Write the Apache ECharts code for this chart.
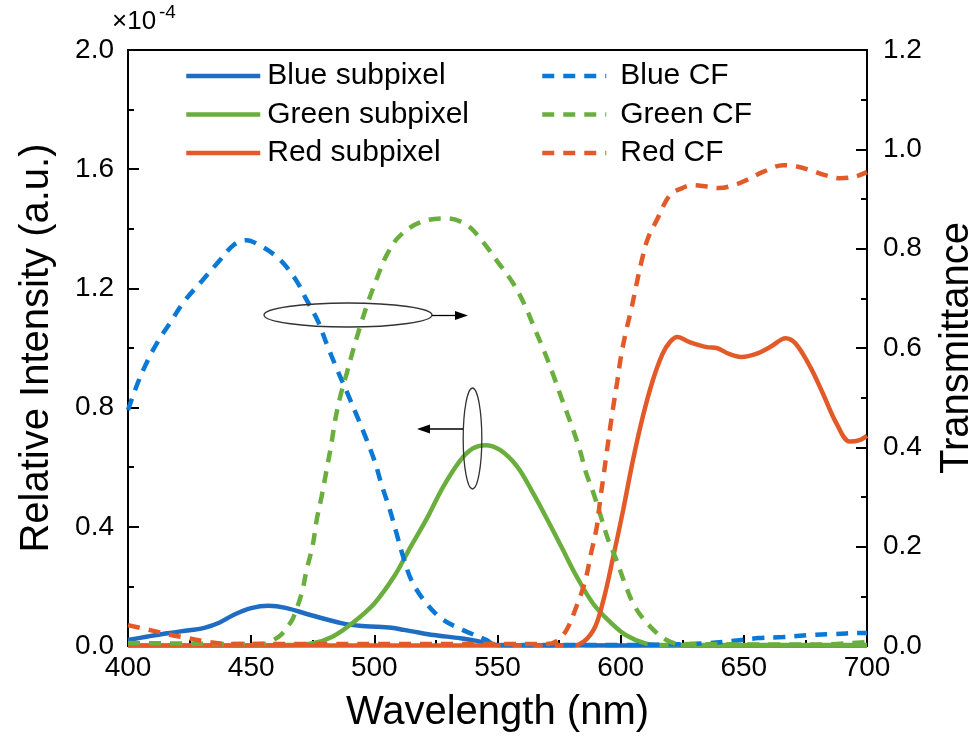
<!DOCTYPE html>
<html>
<head>
<meta charset="utf-8">
<title>Subpixel spectra and color filter transmittance</title>
<script src="https://cdn.jsdelivr.net/npm/echarts@6/dist/echarts.min.js"></script>
<style>
  html, body { margin: 0; padding: 0; background: #fff; }
  #chart { width: 979px; height: 738px; }
</style>
</head>
<body>
<div id="chart"></div>
<script>
// Emission spectra of the subpixels, [wavelength nm, intensity ×1e-4 a.u.]
const blueSubpixel = [
  [400,0.020],[408,0.032],[416,0.043],[425,0.053],[431,0.061],[437,0.078],[443,0.105],
  [450,0.127],[457,0.135],[464,0.128],[474,0.104],[487,0.076],[495,0.067],[501,0.065],
  [507,0.061],[512,0.054],[518,0.045],[524,0.037],[535,0.026],[541,0.018],[546,0.008],
  [551,0.003],[600,0.002],[700,0.002]
];
const greenSubpixel = [
  [400,0.002],[450,0.002],[465,0.003],[475,0.009],[483,0.031],[491,0.076],[500,0.143],
  [508,0.233],[514,0.322],[521,0.423],[528,0.535],[535,0.624],[540,0.663],[545,0.674],
  [551,0.658],[558,0.602],[564.5,0.512],[571,0.412],[576,0.332],[582,0.235],[589,0.140],
  [596,0.078],[602,0.037],[610,0.009],[617,0.003],[700,0.003]
];
const redSubpixel = [
  [400,0.002],[580,0.002],[583,0.005],[589,0.054],[593,0.154],[597,0.300],[601,0.456],
  [605,0.624],[609,0.770],[613,0.890],[617,0.980],[620,1.020],[623,1.037],[628,1.020],
  [635,1.003],[639,1.000],[644,0.980],[649,0.970],[655,0.980],[661,1.005],[667,1.033],
  [671,1.015],[677,0.936],[682,0.849],[687.6,0.747],[693,0.686],[697,0.691],[700,0.705]
];

// Color filter transmittance, [wavelength nm, transmittance]
const blueCF = [
  [400,0.475],[404,0.530],[408,0.575],[412,0.612],[417,0.650],[423,0.695],[430,0.735],
  [437,0.775],[443,0.808],[448,0.817],[453,0.808],[461,0.781],[467.8,0.740],[472.5,0.697],
  [477.2,0.653],[480.6,0.609],[484.7,0.559],[488.8,0.512],[492.8,0.465],[496.5,0.420],
  [500.2,0.371],[503,0.324],[506.3,0.274],[509,0.227],[511.7,0.180],[515,0.133],[520,0.093],
  [527,0.056],[536,0.032],[545.6,0.012],[549,0.002],[600,0.002],[620,0.003],[633,0.005],
  [645,0.010],[656,0.016],[666,0.018],[677,0.022],[686,0.024],[697,0.026],[700,0.026]
];
const greenCF = [
  [400,0.006],[420,0.005],[440,0.004],[452,0.004],[456,0.005],[459,0.012],[462,0.022],
  [465,0.040],[467,0.056],[470.5,0.106],[472.5,0.153],[475,0.203],[476.6,0.254],
  [478.6,0.301],[480.6,0.354],[482.5,0.405],[484,0.452],[486,0.499],[488.8,0.549],
  [491.4,0.596],[494.2,0.643],[497.5,0.693],[501,0.740],[505,0.787],[510,0.824],
  [518.5,0.853],[529,0.861],[537.5,0.848],[544,0.814],[550,0.774],[556.4,0.730],
  [561,0.687],[565,0.640],[569,0.593],[572.6,0.546],[576,0.499],[579.5,0.452],
  [583.4,0.395],[586,0.348],[589,0.307],[592,0.260],[595,0.213],[598.3,0.173],
  [601.7,0.126],[605.8,0.079],[612,0.039],[618.6,0.012],[624,0.004],[680,0.003],[700,0.008]
];
const redCF = [
  [400,0.042],[409,0.032],[416,0.024],[422,0.018],[433,0.008],[440,0.004],[570,0.004],
  [574,0.010],[578,0.032],[582,0.079],[585.5,0.129],[588,0.187],[590.3,0.240],[591.6,0.291],
  [593,0.341],[594.3,0.388],[595.6,0.435],[597,0.482],[598.6,0.532],[600,0.579],[602,0.630],
  [604.4,0.680],[606.5,0.730],[608.6,0.777],[611,0.820],[614.7,0.858],[620,0.908],
  [625,0.922],[629,0.928],[635,0.925],[640,0.922],[646,0.928],[651,0.938],[658,0.955],
  [666,0.968],[672,0.965],[677,0.958],[683,0.948],[689,0.942],[695,0.945],[700,0.954]
];

const seriesNames = ['Blue subpixel','Green subpixel','Red subpixel','Blue CF','Green CF','Red CF'];

// Major tick values of the three axes
const xTickValues = [400, 450, 500, 550, 600, 650, 700];
const leftTickValues = [0, 0.4, 0.8, 1.2, 1.6, 2.0];
const rightTickValues = [0, 0.2, 0.4, 0.6, 0.8, 1.0, 1.2];

const FONT = '"Liberation Sans", Arial, sans-serif';
const colors = {
  blueSolid: '#1f6cc2', blueDash: '#0a78d6',
  green: '#6aae3d', red: '#e35a29'
};
const DASH = [12, 9];
const LINE_W = 4.5;

function lineSeries(name, data, color, yIndex, dashed) {
  return {
    name: name,
    type: 'line',
    yAxisIndex: yIndex,
    data: data,
    smooth: 0.35,
    symbol: 'none',
    showSymbol: false,
    lineStyle: { color: color, width: LINE_W, type: dashed ? DASH : 'solid', cap: 'butt' },
    itemStyle: { color: color },
    emphasis: { disabled: true },
    z: dashed ? 3 : 2
  };
}

function axisFromTicks(values) {
  return {
    min: values[0],
    max: values[values.length - 1],
    interval: values[1] - values[0]
  };
}

// Ticks point into the plot area; one short minor tick between majors.
function axisCommon() {
  return {
    axisLine: { show: true, lineStyle: { color: '#000', width: 2 } },
    axisTick: { show: true, inside: true, length: 11, lineStyle: { color: '#000', width: 2 } },
    minorTick: { show: true, splitNumber: 2, length: 6, lineStyle: { color: '#000', width: 2 } },
    splitLine: { show: false },
    minorSplitLine: { show: false },
    nameTextStyle: { fontFamily: FONT, fontSize: 40, color: '#000' }
  };
}

const labelStyle = { fontFamily: FONT, fontSize: 28, color: '#000' };

function legendBlock(names, left, iconWidth, textPad) {
  return {
    data: names,
    orient: 'vertical', left: left, top: 60, padding: 0,
    itemWidth: iconWidth, itemHeight: 14, itemGap: 6.5,
    itemStyle: { opacity: 0 },
    lineStyle: { width: LINE_W },
    textStyle: { fontFamily: FONT, fontSize: 30, color: '#000', lineHeight: 32, padding: [0, 0, 0, textPad] },
    selectedMode: false
  };
}

const chart = echarts.init(document.getElementById('chart'), null, { renderer: 'canvas' });

chart.setOption({
  animation: false,
  backgroundColor: '#fff',
  grid: {
    left: 128, right: 112, top: 50, bottom: 92,
    outerBoundsMode: 'none', containLabel: false,
    show: true, borderColor: '#000', borderWidth: 2, backgroundColor: 'transparent'
  },
  legend: [
    legendBlock(seriesNames.slice(0, 3), 184, 74, 2),
    legendBlock(seriesNames.slice(3), 540, 64, 9)
  ],
  xAxis: Object.assign(axisCommon(), axisFromTicks(xTickValues), {
    type: 'value',
    name: 'Wavelength (nm)', nameLocation: 'middle', nameGap: 47,
    axisLabel: Object.assign({}, labelStyle, { margin: 8 })
  }),
  yAxis: [
    Object.assign(axisCommon(), axisFromTicks(leftTickValues), {
      type: 'value', position: 'left',
      name: 'Relative Intensity (a.u.)', nameLocation: 'middle', nameGap: 71,
      axisLabel: Object.assign({}, labelStyle, { margin: 14, formatter: v => v.toFixed(1) })
    }),
    Object.assign(axisCommon(), axisFromTicks(rightTickValues), {
      type: 'value', position: 'right',
      name: 'Transmittance', nameLocation: 'middle', nameGap: 70,
      axisLabel: Object.assign({}, labelStyle, { margin: 16, formatter: v => v.toFixed(1) })
    })
  ],
  series: [
    lineSeries(seriesNames[0], blueSubpixel, colors.blueSolid, 0, false),
    lineSeries(seriesNames[1], greenSubpixel, colors.green, 0, false),
    lineSeries(seriesNames[2], redSubpixel, colors.red, 0, false),
    lineSeries(seriesNames[3], blueCF, colors.blueDash, 1, true),
    lineSeries(seriesNames[4], greenCF, colors.green, 1, true),
    lineSeries(seriesNames[5], redCF, colors.red, 1, true)
  ],
  graphic: [
    // axis multiplier
    { type: 'text', left: 112, top: 9, style: { text: '×10', font: '26px ' + FONT, fill: '#000' } },
    { type: 'text', left: 159, top: 3, style: { text: '-4', font: '19px ' + FONT, fill: '#000' } },
    // ellipse + arrow pointing to the transmittance axis
    { type: 'ellipse', shape: { cx: 348, cy: 315, rx: 84, ry: 12 },
      style: { fill: 'none', stroke: '#333', lineWidth: 1.3 }, z: 10 },
    { type: 'line', shape: { x1: 432, y1: 315.5, x2: 456, y2: 315.5 },
      style: { stroke: '#000', lineWidth: 1.3 }, z: 10 },
    { type: 'polygon', shape: { points: [[468, 315.5], [455, 311], [455, 320]] },
      style: { fill: '#000' }, z: 10 },
    // ellipse + arrow pointing to the intensity axis
    { type: 'ellipse', shape: { cx: 472.5, cy: 438.5, rx: 9.3, ry: 50.5 },
      style: { fill: 'none', stroke: '#333', lineWidth: 1.3 }, z: 10 },
    { type: 'line', shape: { x1: 463, y1: 429, x2: 429, y2: 429 },
      style: { stroke: '#000', lineWidth: 1.3 }, z: 10 },
    { type: 'polygon', shape: { points: [[417, 429], [430, 424.5], [430, 433.5]] },
      style: { fill: '#000' }, z: 10 }
  ]
});
</script>
</body>
</html>
